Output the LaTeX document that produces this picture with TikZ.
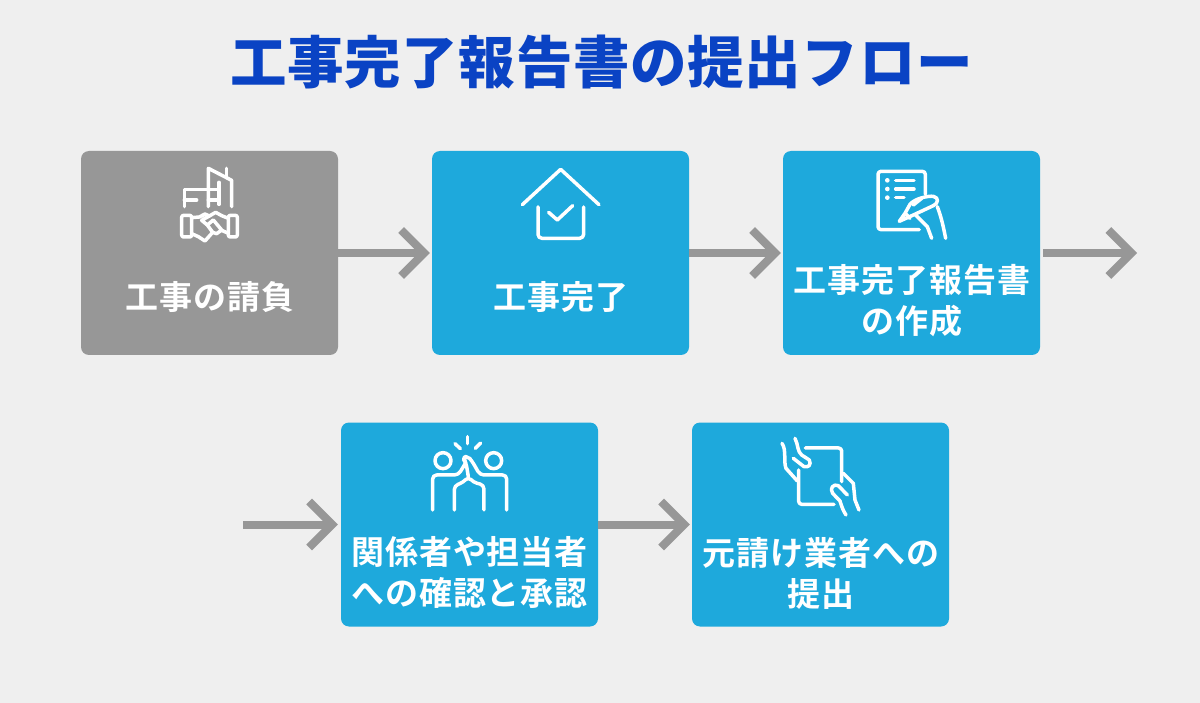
\documentclass[tikz,border=0pt]{standalone}
\usepackage{fontspec}
\usetikzlibrary{arrows.meta}
\newfontfamily\cjk{Noto Sans CJK JP}[BoldFont={Noto Sans CJK JP Bold}]
\newfontfamily\cjkblack{Noto Sans CJK JP Black}
\definecolor{bgc}{HTML}{EFEFEF}
\definecolor{bluec}{HTML}{1EA9DC}
\definecolor{greyc}{HTML}{979797}
\definecolor{titlec}{HTML}{0A43C4}
\tikzset{
 box/.style={rectangle,rounded corners=8pt,minimum width=257pt,minimum height=204pt,inner sep=0pt,fill=bluec},
 greybox/.style={box,fill=greyc},
 label/.style={text=white,font=\cjk\bfseries\fontsize{33}{41}\selectfont\addfontfeatures{LetterSpace=2.8},align=center,inner sep=0pt},
 flow/.style={draw=greyc,line width=8pt,-{Straight Barb[length=23pt,width=46pt,line width=8pt,sharp]}},
 icon/.style={draw=white,line width=3.5pt,line cap=round,line join=round},
 iconarea/.style={x=0.3333pt,y=-0.3333pt}
}
\begin{document}
\begin{tikzpicture}[x=1pt,y=-1pt]
\fill[bgc] (0,0) rectangle (1200,703);
\useasboundingbox (0,0) rectangle (1200,703);
\node[text=titlec,font=\cjkblack\fontsize{56.5}{60}\selectfont\addfontfeatures{LetterSpace=1.2},inner sep=0pt] (title) at (601.5,62) {工事完了報告書の提出フロー};
\node[greybox] (a) at (209.5,253) {};
\node[box] (b) at (560.5,253) {};
\node[box] (c) at (911.5,253) {};
\node[box] (d) at (469.5,524.5) {};
\node[box] (e) at (820.5,524.5) {};
\coordinate (cout) at (1137,253);
\coordinate (cstart) at (1043,253);
\coordinate (dstart) at (243,524.5);
\node[label] (ta) at (210,297) {工事の請負};
\node[label] (tb) at (561,297) {工事完了};
\node[label] (tc) at (912,301) {工事完了報告書\\の作成};
\node[label] (td) at (469.5,572) {関係者や担当者\\への確認と承認};
\node[label] (te) at (821,573) {元請け業者への\\提出};
\draw[flow] (a.east) -- ([xshift=-2pt]b.west);
\draw[flow] (b.east) -- ([xshift=-2pt]c.west);
\draw[flow] (cstart) -- (cout);
\draw[flow] (dstart) -- ([xshift=-3pt]d.west);
\draw[flow] (d.east) -- ([xshift=-2pt]e.west);
% icon a
\begin{scope}[shift={(150,155)},iconarea]
\draw[icon] (175,155)--(175,40)--(245,76)--(245,155);
\draw[icon] (230,40)--(230,68);
\draw[icon] (103,155)--(103,103)--(207,103);
\draw[icon] (207,82)--(207,148);
\draw[icon] (103,135)--(140,135);
\draw[icon] (175,135)--(207,135);
\draw[icon,rounded corners=2pt] (95,181) rectangle (125,246);
\draw[icon,rounded corners=2pt] (235,181) rectangle (262,246);
\draw[icon] (125,188)--(148,186)--(165,177)--(178,183)--(155,196)--(172,210)--(190,195)--(215,225)--(200,236)--(188,232)--(165,258)--(145,245)--(125,236);
\draw[icon] (178,183)--(197,172)--(215,182)--(235,190);
\draw[icon] (235,235)--(215,226);
\draw[icon] (188,232)--(172,210);
\end{scope}
% icon b
\begin{scope}[shift={(500,155)},iconarea]
\draw[icon] (67,149)--(182,43)--(297,149);
\draw[icon,rounded corners=4pt] (114,156)--(114,250)--(251,250)--(251,156);
\draw[icon] (146,172)--(172,195)--(218,152);
\end{scope}
% icon c
\begin{scope}[shift={(850,155)},iconarea]
\draw[icon,rounded corners=3pt] (208,224)--(84,224)--(84,49)--(226,49)--(226,118);
\draw[icon] (137,76)--(192,76);
\draw[icon] (137,102)--(192,102);
\draw[icon] (137,128)--(162,128);
\fill[white] (112,76) circle (7) (112,102) circle (7) (112,128) circle (7);
\draw[icon] (148,199)--(165,175)--(180,148) .. controls (195,130) and (235,122) .. (250,124) .. controls (268,128) and (265,145) .. (250,152) -- (190,180) -- (148,199);
\draw[icon] (166,175)--(180,190);
\draw[icon] (190,150)--(215,130);
\draw[icon] (195,178)--(232,215)--(245,250);
\draw[icon] (262,155) .. controls (275,190) and (280,215) .. (287,250);
\end{scope}
% icon d
\begin{scope}[shift={(410,425)},iconarea]
\draw[icon] (172,35)--(172,56);
\draw[icon] (135,56)--(151,71);
\draw[icon] (212,54)--(196,70);
\draw[icon] (99,107) circle (24);
\draw[icon] (251,107) circle (24);
\draw[icon,rounded corners=4pt] (68,255)--(68,150)--(145,150)--(168,112);
\draw[icon,rounded corners=4pt] (290,255)--(290,150)--(210,150)--(186,108)--(172,92)--(158,100)--(168,112)--(175,155);
\draw[icon,rounded corners=4pt] (133,255)--(133,182)--(160,172)--(175,155)--(190,172)--(222,180)--(222,255);
\end{scope}
% icon e
\begin{scope}[shift={(760,425)},iconarea]
\draw[icon,rounded corners=3pt] (136,69)--(245,69)--(245,170);
\draw[icon,rounded corners=3pt] (116,135)--(116,238)--(222,238);
\draw[icon] (66,55) .. controls (80,75) and (70,110) .. (78,130) -- (112,168);
\draw[icon] (105,40) .. controls (115,60) and (112,80) .. (125,90) -- (148,105) .. controls (155,120) and (145,128) .. (132,125) -- (100,100);
\draw[icon] (250,145)--(280,175)--(285,225)--(297,255);
\draw[icon] (262,210)--(235,182) .. controls (220,175) and (208,190) .. (218,205) -- (240,228) .. controls (245,245) and (250,258) .. (258,270);
\end{scope}
\end{tikzpicture}
\end{document}
